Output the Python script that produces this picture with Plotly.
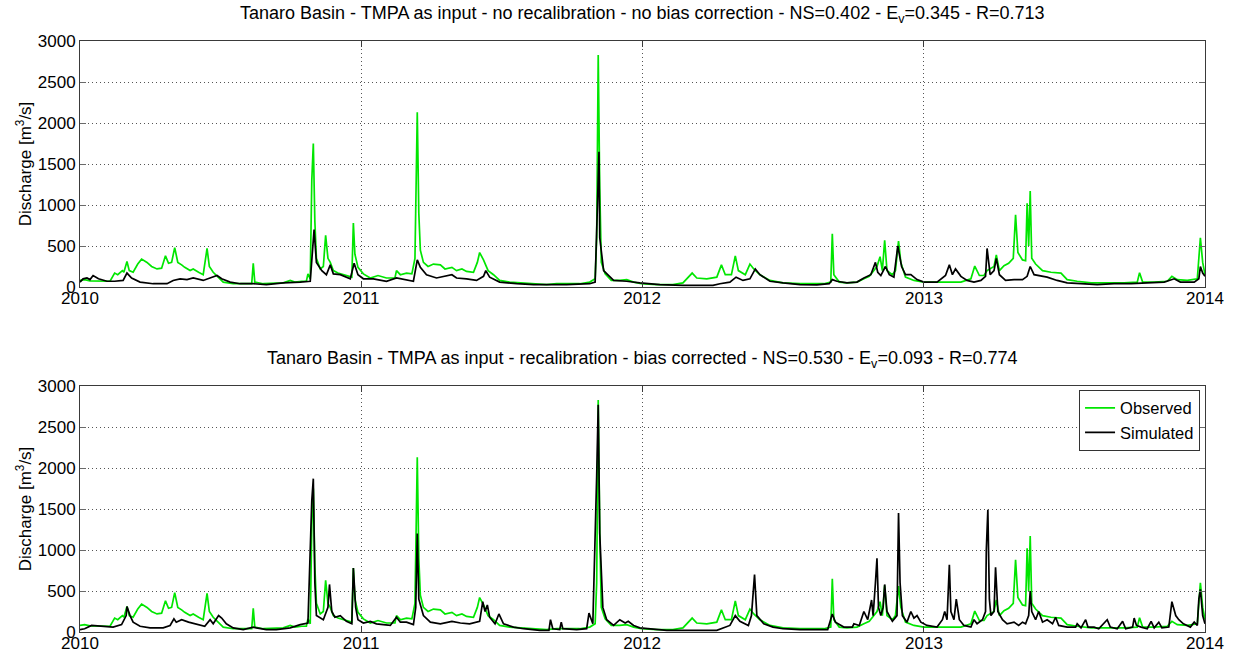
import pandas as pd
import plotly.graph_objects as go

# Daily discharge of the Tanaro basin, 2010-2013 (days counted from 2010-01-01, m3/s)
obs_day = [0, 6, 13, 26, 39, 45, 49, 55, 57, 61, 64, 69, 75, 80, 87, 93, 100, 106, 111, 115,
           119, 123, 127, 132, 136, 143, 147, 154, 160, 165, 168, 173, 180, 186, 199, 212, 223,
           225, 227, 238, 251, 264, 273, 279, 288, 294, 296, 299, 301, 303, 305, 307, 312, 316,
           319, 322, 325, 329, 335, 342, 348, 353, 355, 357, 361, 368, 377, 387, 398, 409, 411,
           416, 424, 431, 435, 438, 440, 442, 446, 452, 459, 468, 474, 483, 489, 496, 502, 511,
           516, 519, 524, 530, 537, 545, 558, 571, 589, 606, 619, 632, 649, 662, 669, 671, 673,
           675, 677, 682, 690, 701, 710, 719, 729, 749, 770, 783, 795, 801, 814, 827, 833, 838,
           846, 851, 855, 864, 870, 875, 883, 896, 913, 935, 957, 966, 975, 977, 979, 986, 996,
           1009, 1018, 1025, 1031, 1035, 1039, 1042, 1045, 1048, 1055, 1059, 1063, 1066, 1072,
           1083, 1096, 1113, 1126, 1144, 1157, 1162, 1168, 1174, 1178, 1187, 1190, 1194, 1200,
           1206, 1212, 1215, 1218, 1224, 1228, 1230, 1232, 1234, 1236, 1241, 1250, 1261, 1274,
           1282, 1295, 1313, 1334, 1356, 1373, 1376, 1380, 1395, 1412, 1418, 1425, 1438, 1451,
           1455, 1458, 1461]
obs_q = [80, 90, 75, 70, 70, 170, 150, 200, 180, 310, 200, 180, 280, 340, 300, 250, 220, 230, 380, 290,
         300, 480, 300, 270, 240, 200, 220, 180, 150, 470, 250, 180, 120, 60, 40, 40, 40,
         290, 60, 40, 45, 50, 80, 60, 70, 70, 160, 100, 1300, 1750, 800, 350, 220, 250,
         630, 350, 300, 200, 170, 150, 130, 120, 780, 400, 240, 160, 110, 140, 110, 110, 200,
         150, 170, 160, 350, 2130, 900, 450, 300, 250, 280, 270, 220, 240, 200, 220, 190, 180,
         300, 420, 330, 200, 150, 80, 60, 50, 40, 30, 40, 40, 40, 60, 100, 600, 2830,
         1200, 300, 160, 80, 80, 90, 60, 40, 30, 30, 50, 170, 110, 100, 120, 270, 150,
         150, 380, 200, 150, 280, 220, 150, 80, 50, 40, 40, 40, 60, 650, 150, 60, 50,
         60, 100, 130, 200, 250, 370, 200, 570, 200, 150, 200, 560, 300, 120,
         80, 60, 60, 60, 60, 100, 255, 140, 140, 200, 250, 390, 200, 260,
         290, 350, 880, 420, 330, 320, 1020, 500, 1170, 350, 280, 200, 180, 170,
         90, 70, 50, 50, 50, 60, 175, 60, 60, 70, 130, 90, 80, 100,
         600, 300, 150]

# Simulation with TMPA input, original calibration, no bias correction
sim1_day = [0, 4, 9, 13, 17, 24, 35, 45, 56, 61, 67, 78, 95, 113, 121, 130, 139, 147, 160, 167,
            178, 184, 195, 208, 225, 242, 264, 286, 299, 302, 304, 307, 314, 320, 325, 329, 338,
            351, 356, 361, 368, 381, 398, 411, 420, 433, 438, 442, 450, 463, 483, 489, 502, 515,
            524, 527, 532, 545, 567, 589, 610, 632, 662, 669, 672, 674, 675, 680, 693, 710, 727,
            753, 783, 805, 822, 831, 844, 852, 861, 870, 877, 883, 896, 913, 935, 957, 973, 977,
            983, 996, 1009, 1018, 1027, 1033, 1036, 1040, 1046, 1051, 1057, 1062, 1067, 1072,
            1079, 1087, 1096, 1113, 1120, 1124, 1129, 1133, 1137, 1144, 1152, 1161, 1170, 1176,
            1178, 1182, 1187, 1190, 1194, 1202, 1213, 1224, 1230, 1234, 1239, 1247, 1256, 1269,
            1282, 1300, 1321, 1343, 1365, 1386, 1408, 1421, 1429, 1447, 1453, 1455, 1458, 1461]
sim1_q = [60, 100, 110, 90, 140, 100, 70, 70, 80, 170, 110, 60, 40, 40, 80, 100, 90, 110, 80, 100,
          140, 100, 60, 40, 40, 30, 50, 60, 70, 450, 700, 300, 200, 150, 270, 160, 150,
          100, 290, 150, 100, 100, 70, 110, 90, 70, 330, 240, 150, 110, 150, 110, 100, 80,
          130, 200, 120, 60, 40, 30, 30, 30, 40, 60, 1000, 1650, 600, 200, 80, 70, 50,
          30, 20, 20, 20, 40, 60, 120, 80, 100, 220, 150, 70, 50, 30, 25, 40, 90,
          70, 50, 60, 110, 150, 300, 180, 140, 250, 150, 120, 500, 250, 150,
          150, 90, 60, 60, 110, 140, 270, 150, 220, 130, 80, 60, 80, 130,
          470, 150, 200, 350, 150, 80, 90, 90, 130, 250, 150, 140, 120, 80,
          50, 40, 30, 40, 40, 50, 60, 100, 60, 60, 100, 250, 170, 130]

# Simulation after recalibration with bias-corrected TMPA input
sim2_day = [0, 6, 15, 26, 43, 54, 60, 61, 65, 69, 78, 91, 108, 117, 122, 125, 132, 141, 152, 162,
            169, 173, 180, 184, 190, 199, 212, 225, 229, 242, 255, 273, 286, 296, 301, 303, 305,
            307, 316, 322, 324, 327, 331, 338, 346, 353, 355, 358, 361, 368, 377, 385, 394, 403,
            411, 416, 424, 433, 436, 438, 440, 446, 455, 468, 483, 494, 506, 519, 523, 526, 529,
            532, 539, 544, 550, 563, 576, 597, 609, 611, 614, 623, 625, 627, 645, 658, 661, 666,
            671, 673, 675, 679, 684, 693, 701, 708, 712, 719, 727, 745, 762, 783, 805, 827, 844,
            851, 857, 868, 872, 876, 879, 888, 900, 913, 935, 957, 971, 977, 981, 992, 1003,
            1005, 1012, 1018, 1023, 1028, 1030, 1033, 1035, 1037, 1040, 1043, 1045, 1048, 1055,
            1061, 1063, 1065, 1068, 1074, 1079, 1083, 1087, 1092, 1100, 1113, 1120, 1123, 1126,
            1129, 1131, 1135, 1138, 1142, 1148, 1157, 1161, 1165, 1172, 1176, 1177, 1179, 1181,
            1183, 1187, 1189, 1192, 1198, 1204, 1213, 1219, 1224, 1228, 1232, 1234, 1236, 1241,
            1245, 1250, 1256, 1263, 1267, 1271, 1282, 1293, 1295, 1300, 1306, 1309, 1317, 1323,
            1334, 1338, 1347, 1354, 1358, 1367, 1369, 1372, 1378, 1386, 1391, 1395, 1401, 1405,
            1414, 1418, 1423, 1427, 1433, 1442, 1447, 1451, 1453, 1455, 1458, 1461]
sim2_q = [30, 40, 80, 70, 60, 90, 200, 310, 200, 120, 70, 50, 50, 80, 160, 120, 150, 120, 90, 70,
          150, 100, 200, 170, 100, 50, 30, 60, 50, 30, 30, 50, 90, 110, 1600, 1870, 600,
          200, 150, 300, 580, 250, 180, 200, 130, 100, 780, 300, 150, 110, 130, 100, 90, 80,
          180, 120, 120, 90, 300, 1200, 400, 200, 120, 100, 130, 110, 100, 130, 370, 250, 330,
          180, 100, 220, 100, 60, 40, 20, 20, 150, 40, 30, 120, 40, 30, 40, 230, 100,
          1900, 2770, 1200, 300, 150, 80, 150, 110, 130, 80, 50, 30, 20, 20, 20, 20, 80,
          200, 130, 80, 200, 700, 200, 100, 60, 40, 30, 25, 30, 220, 120, 60, 60,
          100, 80, 250, 150, 390, 200, 600, 900, 300, 200, 300, 580, 250, 130,
          200, 1450, 600, 200, 120, 250, 170, 200, 120, 80, 60, 150, 250, 150,
          820, 250, 150, 400, 150, 80, 60, 150, 100, 150, 250, 1000, 1490, 400,
          200, 250, 790, 250, 150, 100, 120, 80, 120, 100, 200, 500, 250, 150,
          250, 120, 150, 100, 180, 80, 60, 60, 100, 50, 150, 60, 60, 40,
          150, 60, 40, 130, 40, 60, 170, 80, 60, 40, 130, 50, 120, 50,
          60, 370, 200, 150, 100, 60, 120, 80, 400, 520, 200, 100]

year_ticks = ["2010-01-01", "2011-01-01", "2012-01-01", "2013-01-01", "2014-01-01"]
year_labels = ["2010", "2011", "2012", "2013", "2014"]
q_ticks = [0, 500, 1000, 1500, 2000, 2500, 3000]

titles = [
    "Tanaro Basin - TMPA as input - no recalibration - no bias correction - NS=0.402 - E<sub>v</sub>=0.345 - R=0.713",
    "Tanaro Basin - TMPA as input - recalibration - bias corrected - NS=0.530 - E<sub>v</sub>=0.093 - R=0.774",
]

start = pd.Timestamp("2010-01-01")


def to_dates(days):
    return start + pd.to_timedelta(days, unit="D")


GREEN = "#00e600"
BLACK = "#000000"
FONT = "Liberation Sans, Arial, sans-serif"
GRID_DASH = "1px,3px"

fig = go.Figure()

# top panel
fig.add_trace(go.Scatter(x=to_dates(obs_day), y=obs_q, mode="lines", name="Observed",
                         line=dict(color=GREEN, width=1.7), xaxis="x", yaxis="y", showlegend=False))
fig.add_trace(go.Scatter(x=to_dates(sim1_day), y=sim1_q, mode="lines", name="Simulated",
                         line=dict(color=BLACK, width=1.7), xaxis="x", yaxis="y", showlegend=False))
# bottom panel
fig.add_trace(go.Scatter(x=to_dates(obs_day), y=obs_q, mode="lines", name="Observed",
                         line=dict(color=GREEN, width=1.7), xaxis="x2", yaxis="y2"))
fig.add_trace(go.Scatter(x=to_dates(sim2_day), y=sim2_q, mode="lines", name="Simulated",
                         line=dict(color=BLACK, width=1.7), xaxis="x2", yaxis="y2"))

xcommon = dict(type="date", range=[year_ticks[0], year_ticks[-1]], tickmode="array",
               tickvals=year_ticks, ticktext=year_labels, showgrid=True, gridcolor="#555555",
               griddash=GRID_DASH, gridwidth=1, showline=True, linecolor="#3a3a3a", linewidth=1,
               mirror="ticks", ticks="inside", ticklen=6, tickcolor="#3a3a3a",
               tickfont=dict(size=17, color="black", family=FONT), automargin=False,
               ticklabelstandoff=-4, zeroline=False)
ycommon = dict(range=[0, 3000], tickmode="array", tickvals=q_ticks, showgrid=True,
               gridcolor="#555555", griddash=GRID_DASH, gridwidth=1, showline=True,
               linecolor="#3a3a3a", linewidth=1, mirror="ticks", ticks="inside", ticklen=6,
               tickcolor="#6a6a6a", tickfont=dict(size=17, color="black", family=FONT),
               automargin=False, zeroline=False,
               title=dict(text="Discharge [m<sup>3</sup>/s]", font=dict(size=17, color="black", family=FONT),
                          standoff=1))

top_dom = [345 / 591, 1.0]
bot_dom = [0.0, 246 / 591]

fig.update_layout(
    width=1234, height=655,
    margin=dict(l=80, r=29, t=41, b=23),
    paper_bgcolor="white", plot_bgcolor="white",
    font=dict(family=FONT, color="black"),
    xaxis=dict(xcommon, domain=[0, 1], anchor="y"),
    yaxis=dict(ycommon, domain=top_dom, anchor="x"),
    xaxis2=dict(xcommon, domain=[0, 1], anchor="y2"),
    yaxis2=dict(ycommon, domain=bot_dom, anchor="x2"),
    legend=dict(x=0.9956, y=0.41, xanchor="right", yanchor="top", bgcolor="white",
                bordercolor="#333333", borderwidth=1, font=dict(size=16.5, color="black", family=FONT),
                tracegroupgap=0, itemwidth=30),
    showlegend=True,
)

for title, dom in zip(titles, [top_dom, bot_dom]):
    fig.add_annotation(text=title, xref="paper", yref="paper", x=0.5, y=dom[1],
                       xanchor="center", yanchor="middle", yshift=27, showarrow=False,
                       font=dict(size=18, color="black", family=FONT))

fig.write_html("out.html")
